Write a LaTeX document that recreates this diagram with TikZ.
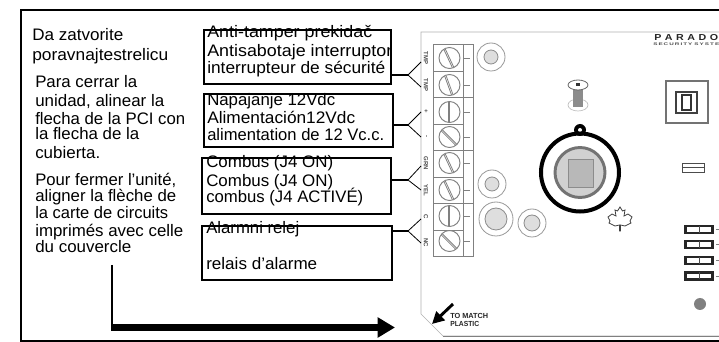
\documentclass[tikz,border=0pt]{standalone}
\usepackage{fontspec}
\usepackage{graphicx}
\setmainfont{Liberation Sans}
\usetikzlibrary{arrows.meta,calc}
% name, x, y, printed width in px, text
\newcommand{\tl}[5]{\node[txt] (#1) at (#2,#3) {\resizebox{\dimexpr#4pt*3/4\relax}{\height}{#5}};}
\tikzset{
  txt/.style={anchor=base west,inner sep=0pt,font=\fontsize{12.5}{12.5}\selectfont},
  lab/.style={inner sep=0pt,rotate=-90,font=\fontsize{4.5}{4.5}\bfseries\selectfont,text=black!70},
  boxn/.style={draw=black,line width=1.5pt,inner sep=0pt,fill=white},
  conn/.style={draw=black,line width=0.9pt},
  fork/.style={draw=black,line width=0.6pt},
  pcb/.style={draw=black!30,line width=0.5pt},
  termline/.style={draw=black!50,line width=0.6pt},
  ringo/.style={draw=black!40,line width=0.6pt,fill=white},
  ringi/.style={draw=black!45,line width=0.6pt,fill=black!13},
  screw/.style={draw=black!50,line width=0.7pt,fill=white},
  jump/.style={draw=black!85,line width=1.6pt,fill=white},
  small/.style={inner sep=0pt,anchor=base west,font=\fontsize{5.5}{5.5}\bfseries\selectfont,text=black!85}
}
\begin{document}
\begin{tikzpicture}[x=0.75pt,y=-0.75pt]
\useasboundingbox (0,0) rectangle (719,342);
\fill[white] (0,0) rectangle (719,342);
\begin{scope}
\clip (0,0) rectangle (719,342);
% board
\draw[pcb] (719,32) -- (421,32) -- (421,314) -- (443,336) -- (719,336);
\draw[black!50,line width=0.8pt] (443,336.5) -- (719,336.5);
% terminal block
\draw[termline] (433,44) rectangle (473,256);
\draw[termline] (463,44) -- (463,256);
\foreach \yy in {97,150,203}{\draw[termline] (433,\yy) -- (473,\yy);}
\foreach \yy in {71,124,177,230}{\draw[termline] (433,\yy) -- (463,\yy);}
\foreach \yy/\aa in {58/65,85/70,112/90,137/45,163/65,190/65,216/90,241/45}{
  \draw[screw] (449.5,\yy) circle[radius=10.5];
  \draw[black!50,line width=0.6pt] ($(449.5,\yy)+(\aa:10)$) -- ($(449.5,\yy)+(\aa+180:10)$);
  \draw[black!50,line width=0.6pt] ($(449.5,\yy)+(\aa:10)+(\aa+90:1.5)$) -- ($(449.5,\yy)+(\aa+180:10)+(\aa+90:1.5)$);
  \draw[termline] (463,\yy) -- (470,\yy);
}
\node[lab] (l1) at (426,58) {TMP};
\node[lab] (l2) at (426,85) {TMP};
\node[lab] (l3) at (426,111) {+};
\node[lab] (l4) at (426,137) {-};
\node[lab] (l5) at (426,163) {GRN};
\node[lab] (l6) at (426,190) {YEL};
\node[lab] (l7) at (426,217) {C};
\node[lab] (l8) at (426,243) {NC};
% round parts
\draw[ringo] (491,57) circle[radius=14]; \draw[ringi] (491,57) circle[radius=7];
\draw[ringo] (492,184) circle[radius=14]; \draw[ringi] (492,184) circle[radius=7];
\draw[ringo] (496,219) circle[radius=17]; \draw[ringi] (496,219) circle[radius=11];
\draw[ringo] (532,223) circle[radius=14]; \draw[ringi] (532,223) circle[radius=8];
% screw
\draw[black!25,line width=0.5pt] (578,105) ellipse[x radius=10,y radius=6];
\fill[black!45] (573,89) rectangle (583,107);
\draw[black!60,line width=0.6pt,fill=white] (578,85) ellipse[x radius=10,y radius=5];
\fill[black!80] (576,83.5) rectangle (580,86);
% big ring
\fill[black] (580,130) circle[radius=6];
\fill[white] (580,130) circle[radius=2];
\draw[black,line width=3pt] (580,172.5) circle[radius=39];
\draw[black!55,line width=2.2pt,fill=black!18] (580,172.5) circle[radius=25];
\draw[black!45,line width=0.6pt,fill=black!28] (568,159) rectangle (593,187);
% maple leaf
\draw[black!75,line width=0.6pt] (620,207) -- (622.5,211) -- (625,210) -- (624,216) -- (628,214) -- (632,217) -- (630,221) -- (631,223) -- (625,226) -- (620.5,225) -- (620.5,231) -- (619.5,231) -- (619.5,225) -- (615,226) -- (609,223) -- (610,221) -- (608,217) -- (612,214) -- (616,216) -- (615,210) -- (617.5,211) -- cycle;
% right side
\node[small,font=\fontsize{6.5}{6.5}\bfseries\selectfont] (logo) at (654,41) {\resizebox{\dimexpr64pt*3/4\relax}{\height}{P\,\,A\,\,R\,\,A\,\,D\,\,O}};
\node[small,font=\fontsize{2.8}{3}\bfseries\selectfont,text=black!70] (logob) at (653,46) {\resizebox{\dimexpr66pt*3/4\relax}{\height}{S\,E\,C\,U\,R\,I\,T\,Y\,\,S\,Y\,S\,T\,E}};
\draw[black!55,line width=0.9pt] (666,81) rectangle (708,123);
\draw[black!75,line width=0.8pt] (676,92) rectangle (697,113);
\draw[black!80,line width=0.8pt] (682,95) rectangle (691,110);
\draw[black!70,line width=0.7pt] (682,163) rectangle (704,172);
\draw[black!70,line width=0.5pt] (682,167) -- (704,167);
\foreach \yy in {226,241,257,272.5}{
  \draw[jump] (685.5,\yy) rectangle (712.5,\yy+7);
  \draw[black!70,line width=0.5pt] (699,\yy) -- (699,\yy+7);
  \draw[black!50,line width=0.5pt] (716,\yy+3.5) -- (719,\yy+3.5);
}
\fill[black!50] (700,304) circle[radius=6];
% match plastic
\node[small] (m1) at (450,319) {\resizebox{\dimexpr38pt*3/4\relax}{\height}{TO MATCH}};
\node[small] (m2) at (450,327) {\resizebox{\dimexpr29pt*3/4\relax}{\height}{PLASTIC}};
\coordinate (ma) at (453,304); \coordinate (mb) at (432,324);
\draw[black,line width=2.2pt,-{Triangle[length=9pt,width=9pt]}] (ma) -- (mb);
\end{scope}
% frame
\draw[black,line width=1.5pt] (720,10) -- (20.5,10) -- (20.5,341) -- (720,341);
% boxes
\node[boxn,minimum width=187*0.75pt,minimum height=54*0.75pt,anchor=north west] (b1) at (203,29) {};
\node[boxn,minimum width=189*0.75pt,minimum height=53*0.75pt,anchor=north west] (b2) at (203,93) {};
\node[boxn,minimum width=189*0.75pt,minimum height=56*0.75pt,anchor=north west] (b3) at (201,157) {};
\node[boxn,minimum width=190*0.75pt,minimum height=54*0.75pt,anchor=north west] (b4) at (201,225) {};
% connectors
\foreach \nm/\yy/\ya/\yb in {1/75/62/87,2/125/112/137,3/180/166/190,4/231/219/243}{
  \coordinate (f\nm) at (408,\yy);
  \coordinate (fa\nm) at (421,\ya);
  \coordinate (fb\nm) at (421,\yb);
  \draw[conn] (b\nm.east |- f\nm) -- (f\nm);
  \draw[fork] (fa\nm) -- (f\nm) -- (fb\nm);
}
% main arrow
\coordinate (as) at (112,265);
\coordinate (ac) at (112,327.5);
\coordinate (ae) at (395,327.5);
\draw[black,line width=1.8pt] (as) -- (ac);
\draw[black,line width=4.6pt,-{Triangle[length=13pt,width=14.5pt]}] (111,327.5) -- (ae);
% left texts
\tl{t1}{32}{41}{91}{Da zatvorite}
\tl{t2}{32}{61}{136}{poravnajtestrelicu}
\tl{t3}{35}{88}{102}{Para cerrar la}
\tl{t4}{35}{107}{129}{unidad, alinear la}
\tl{t5}{35}{125}{150}{flecha de la PCI con}
\tl{t6}{35}{140}{104}{la flecha de la}
\tl{t7}{35}{159}{65}{cubierta.}
\tl{t8}{35}{186}{141}{Pour fermer l’unité,}
\tl{t9}{35}{202}{141}{aligner la flèche de}
\tl{t10}{35}{219}{133}{la carte de circuits}
\tl{t11}{35}{237}{148}{imprimés avec celle}
\tl{t12}{35}{253}{96}{du couvercle}
% box texts
\tl{a1}{207}{38}{165}{Anti-tamper prekidač}
\tl{a2}{207}{57}{185}{Antisabotaje interruptor}
\tl{a3}{207}{74}{178}{interrupteur de sécurité}
\tl{c1}{207}{106}{128}{Napajanje 12Vdc}
\tl{c2}{207}{124}{148}{Alimentación12Vdc}
\tl{c3}{207}{141}{177}{alimentation de 12 Vc.c.}
\tl{d1}{206}{168}{127}{Combus (J4 ON)}
\tl{d2}{206}{187}{127}{Combus (J4 ON)}
\tl{d3}{206}{203}{157}{combus (J4 ACTIVÉ)}
\tl{e1}{206}{234}{93}{Alarmni relej}
\tl{e2}{206}{270}{111}{relais d’alarme}
\end{tikzpicture}
\end{document}
